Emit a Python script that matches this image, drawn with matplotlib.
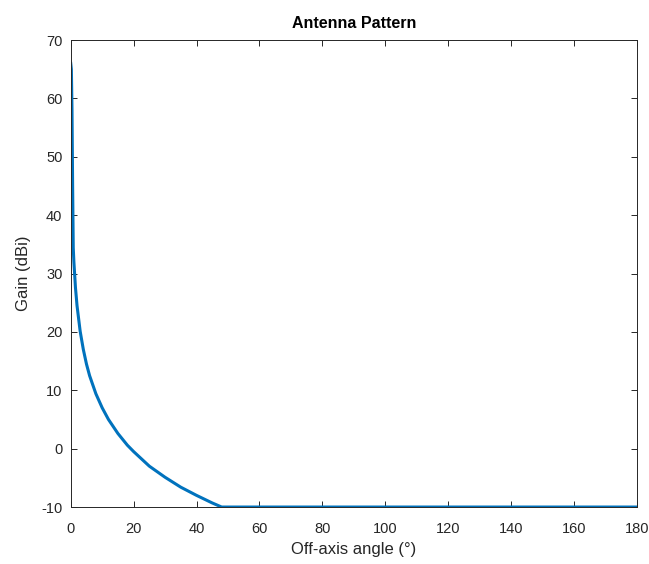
import matplotlib.pyplot as plt

# off-axis angle (deg) and gain (dBi)
angle_deg = [0, 0.2, 0.4, 0.6, 0.8, 1.0, 1.5, 2, 3, 4, 5, 6, 8, 10, 12, 15,
             18, 20, 25, 30, 35, 40, 45, 48, 180]
gain_dbi = [66, 65, 58, 45, 34.4, 32, 27.6, 24.5, 20.1, 17, 14.5, 12.5, 9.4,
            7, 5, 2.6, 0.6, -0.5, -3, -4.9, -6.6, -8, -9.3, -10, -10]

x_ticks = list(range(0, 181, 20))
y_ticks = list(range(-10, 71, 10))

plt.rcParams["font.family"] = ["Liberation Sans", "DejaVu Sans"]
plt.rcParams["axes.unicode_minus"] = False

fig = plt.figure(figsize=(6.49, 5.64), dpi=100)
ax = fig.add_axes([0.109, 0.101, 0.872, 0.828])
ax.plot(angle_deg, gain_dbi, color="#0072BD", linewidth=2.2)

ax.set_xlim(0, 180)
ax.set_ylim(-10, 70)
ax.set_xticks(x_ticks)
ax.set_yticks(y_ticks)
ax.tick_params(direction="in", top=True, right=True, labelsize=10.5,
               colors="#262626", length=4, width=0.7)
ax.tick_params(axis="x", pad=11)
ax.tick_params(axis="y", pad=6)
for spine in ax.spines.values():
    spine.set_color("#262626")
    spine.set_linewidth(0.7)

ax.set_title("Antenna Pattern", fontsize=11.5, fontweight="bold", color="black", pad=9)
ax.set_xlabel("Off-axis angle (°)", fontsize=12, color="#262626", labelpad=4)
ax.set_ylabel("Gain (dBi)", fontsize=12, color="#262626", labelpad=7)

fig.savefig("out.png", dpi=100)
